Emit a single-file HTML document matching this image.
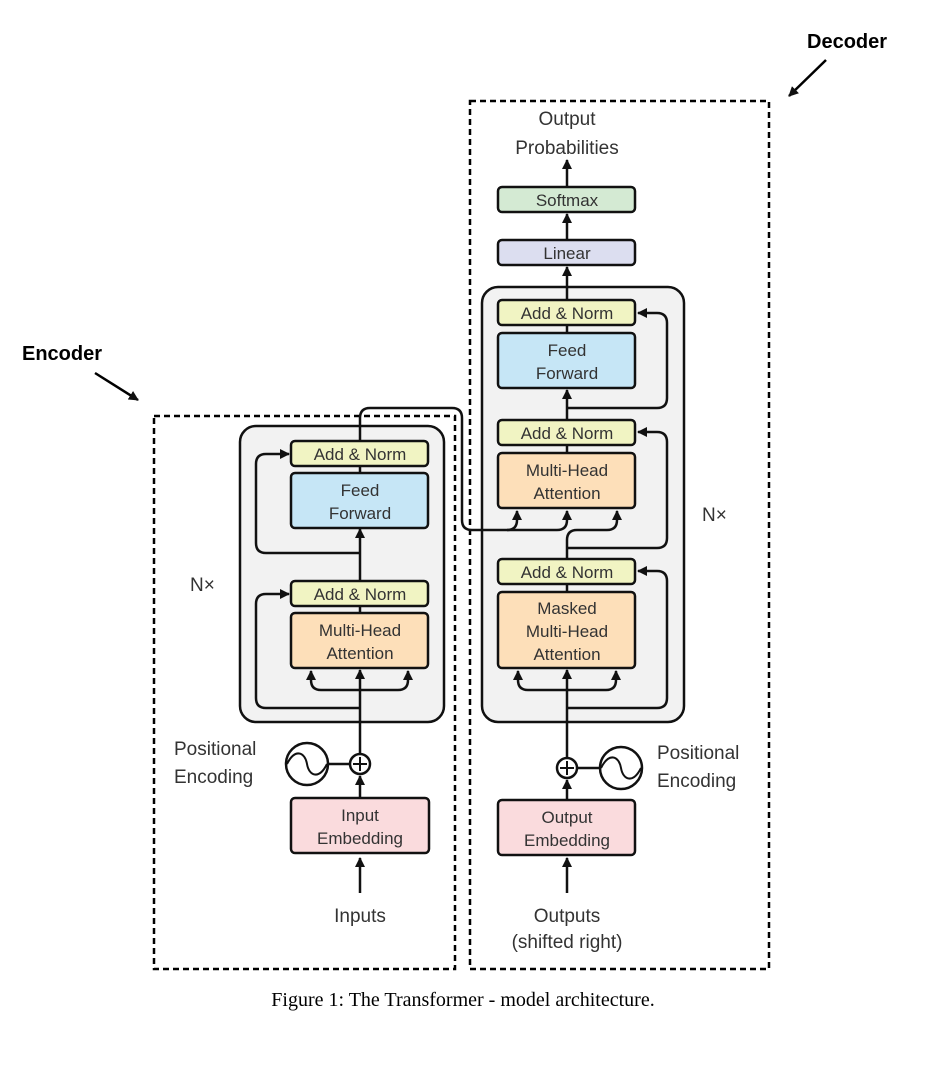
<!DOCTYPE html>
<html><head><meta charset="utf-8"><style>
html,body{margin:0;padding:0;background:#fff;}
svg{display:block;}
text{font-family:"Liberation Sans",sans-serif;fill:#333;}
</style></head><body>
<svg width="933" height="1092" viewBox="0 0 933 1092" xmlns="http://www.w3.org/2000/svg">
<defs>
<marker id="ah" viewBox="0 0 10 10" refX="9" refY="5" markerWidth="4" markerHeight="4" orient="auto"><path d="M0,0 L10,5 L0,10 z" fill="#111"/></marker>
</defs>
<!-- dashed outer boxes -->
<rect x="154" y="416" width="301" height="553" fill="none" stroke="#000" stroke-width="2.5" stroke-dasharray="6,4"/>
<rect x="470" y="101" width="299" height="868" fill="none" stroke="#000" stroke-width="2.5" stroke-dasharray="6,4"/>
<!-- labels -->
<text x="22" y="360" style="font-weight:bold;font-size:20px;fill:#000">Encoder</text>
<text x="807" y="48" style="font-weight:bold;font-size:20px;fill:#000">Decoder</text>
<line x1="95" y1="373" x2="138" y2="400" stroke="#000" stroke-width="2.5" marker-end="url(#ah)"/>
<line x1="826" y1="60" x2="789" y2="96" stroke="#000" stroke-width="2.5" marker-end="url(#ah)"/>

<!-- gray boxes -->
<rect x="240" y="426" width="204" height="296" rx="16" fill="#f2f2f2" stroke="#111" stroke-width="2.5"/>
<rect x="482" y="287" width="202" height="435" rx="16" fill="#f2f2f2" stroke="#111" stroke-width="2.5"/>

<g stroke="#111" stroke-width="2.5" fill="none">
<!-- encoder main line -->
<line x1="360" y1="893" x2="360" y2="858" marker-end="url(#ah)"/>
<line x1="360" y1="798" x2="360" y2="776" marker-end="url(#ah)"/>
<line x1="360" y1="754" x2="360" y2="670" marker-end="url(#ah)"/>
<path d="M360,690 H321 Q311,690 311,680 V671" marker-end="url(#ah)"/>
<path d="M360,690 H398 Q408,690 408,680 V671" marker-end="url(#ah)"/>
<path d="M360,708 H266 Q256,708 256,698 V604 Q256,594 266,594 H289" marker-end="url(#ah)"/>
<line x1="360" y1="606" x2="360" y2="613"/>
<line x1="360" y1="581" x2="360" y2="529" marker-end="url(#ah)"/>
<path d="M360,553 H266 Q256,553 256,543 V464 Q256,454 266,454 H289" marker-end="url(#ah)"/>
<line x1="360" y1="466" x2="360" y2="473"/>
<!-- encoder output to decoder -->
<path d="M360,441 V418 Q360,408 370,408 H452 Q462,408 462,418 V520 Q462,530 472,530 H507 Q517,530 517,520 V511" marker-end="url(#ah)"/>
<path d="M507,530 H557 Q567,530 567,520 V511" marker-end="url(#ah)"/>

<!-- decoder main -->
<line x1="567" y1="893" x2="567" y2="858" marker-end="url(#ah)"/>
<line x1="567" y1="800" x2="567" y2="780" marker-end="url(#ah)"/>
<line x1="567" y1="758" x2="567" y2="670" marker-end="url(#ah)"/>
<path d="M567,690 H528 Q518,690 518,680 V671" marker-end="url(#ah)"/>
<path d="M567,690 H606 Q616,690 616,680 V671" marker-end="url(#ah)"/>
<path d="M567,708 H657 Q667,708 667,698 V581 Q667,571 657,571 H638" marker-end="url(#ah)"/>
<line x1="567" y1="584" x2="567" y2="592"/>
<path d="M567,559 V540 Q567,530 577,530 H607 Q617,530 617,520 V511" marker-end="url(#ah)"/>
<path d="M567,548 H657 Q667,548 667,538 V442 Q667,432 657,432 H638" marker-end="url(#ah)"/>
<line x1="567" y1="445" x2="567" y2="453"/>
<line x1="567" y1="420" x2="567" y2="390" marker-end="url(#ah)"/>
<path d="M567,408 H657 Q667,408 667,398 V323 Q667,313 657,313 H638" marker-end="url(#ah)"/>
<line x1="567" y1="325" x2="567" y2="333"/>
<line x1="567" y1="300" x2="567" y2="267" marker-end="url(#ah)"/>
<line x1="567" y1="240" x2="567" y2="214" marker-end="url(#ah)"/>
<line x1="567" y1="187" x2="567" y2="160" marker-end="url(#ah)"/>

<!-- positional -->
<line x1="327" y1="764" x2="350" y2="764"/>
<line x1="577" y1="768" x2="600" y2="768"/>
</g>

<!-- boxes -->
<g stroke="#111" stroke-width="2.5">
<rect x="291" y="441" width="137" height="25" rx="4" fill="#f1f4c3"/>
<rect x="291" y="473" width="137" height="55" rx="4" fill="#c6e6f6"/>
<rect x="291" y="581" width="137" height="25" rx="4" fill="#f1f4c3"/>
<rect x="291" y="613" width="137" height="55" rx="4" fill="#fddfb9"/>
<rect x="291" y="798" width="138" height="55" rx="4" fill="#fadbdd"/>

<rect x="498" y="300" width="137" height="25" rx="4" fill="#f1f4c3"/>
<rect x="498" y="333" width="137" height="55" rx="4" fill="#c6e6f6"/>
<rect x="498" y="420" width="137" height="25" rx="4" fill="#f1f4c3"/>
<rect x="498" y="453" width="137" height="55" rx="4" fill="#fddfb9"/>
<rect x="498" y="559" width="137" height="25" rx="4" fill="#f1f4c3"/>
<rect x="498" y="592" width="137" height="76" rx="4" fill="#fddfb9"/>
<rect x="498" y="800" width="137" height="55" rx="4" fill="#fadbdd"/>
<rect x="498" y="240" width="137" height="25" rx="4" fill="#dcdef0"/>
<rect x="498" y="187" width="137" height="25" rx="4" fill="#d4ead3"/>

<circle cx="360" cy="764" r="10" fill="#fff"/>
<circle cx="567" cy="768" r="10" fill="#fff"/>
<circle cx="307" cy="764" r="21" fill="#fff"/>
<circle cx="621" cy="768" r="21" fill="#fff"/>
</g>
<g stroke="#111" stroke-width="2" fill="none">
<path d="M353,764 H367 M360,757 V771"/>
<path d="M560,768 H574 M567,761 V775"/>
<path d="M287,764 C295,748 305,752 307,764 C309,776 319,780 327,764"/>
<path d="M601,768 C609,752 619,756 621,768 C623,780 633,784 641,768"/>
</g>

<g font-size="17" text-anchor="middle">
<text x="360" y="460">Add &amp; Norm</text>
<text x="360" y="496">Feed</text><text x="360" y="519">Forward</text>
<text x="360" y="600">Add &amp; Norm</text>
<text x="360" y="636">Multi-Head</text><text x="360" y="659">Attention</text>
<text x="360" y="821">Input</text><text x="360" y="844">Embedding</text>
<text x="360" y="922" font-size="19">Inputs</text>

<text x="567" y="319">Add &amp; Norm</text>
<text x="567" y="356">Feed</text><text x="567" y="379">Forward</text>
<text x="567" y="439">Add &amp; Norm</text>
<text x="567" y="476">Multi-Head</text><text x="567" y="499">Attention</text>
<text x="567" y="578">Add &amp; Norm</text>
<text x="567" y="614">Masked</text><text x="567" y="637">Multi-Head</text><text x="567" y="660">Attention</text>
<text x="567" y="823">Output</text><text x="567" y="846">Embedding</text>
<text x="567" y="259">Linear</text>
<text x="567" y="206">Softmax</text>
<text x="567" y="125" font-size="19">Output</text>
<text x="567" y="154" font-size="19">Probabilities</text>
<text x="567" y="922" font-size="19">Outputs</text>
<text x="567" y="948" font-size="19">(shifted right)</text>
</g>
<g font-size="19">
<text x="174" y="755">Positional</text>
<text x="174" y="783">Encoding</text>
<text x="657" y="759">Positional</text>
<text x="657" y="787">Encoding</text>
<text x="190" y="591">N×</text>
<text x="702" y="521">N×</text>
</g>
<text x="463" y="1006" text-anchor="middle" style="font-family:'Liberation Serif',serif;font-size:20px;fill:#000">Figure 1: The Transformer - model architecture.</text>
</svg>
</body></html>
